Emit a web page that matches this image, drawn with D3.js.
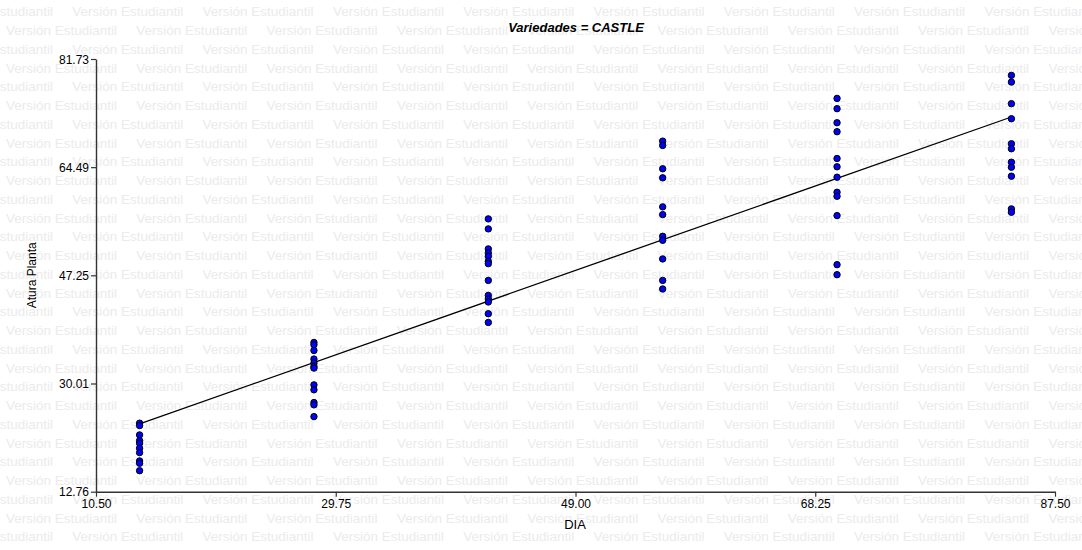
<!DOCTYPE html>
<html>
<head>
<meta charset="utf-8">
<script src="https://cdn.jsdelivr.net/npm/d3@7"></script>
<style>
  body { margin: 0; background: #fff; }
  text { font-family: "Liberation Sans", Arial, sans-serif; }
</style>
</head>
<body>
<div id="chart"></div>
<script>
// valores (Variedades = CASTLE)
const dias = [14, 28, 42, 56, 70, 84];
const alturaDia14 = [23.68, 23.30, 21.81, 20.90, 20.49, 19.69, 18.99, 17.66, 17.29, 16.11];
const alturaDia28 = [36.55, 36.18, 35.27, 33.90, 33.26, 32.72, 32.46, 29.79, 29.00, 26.97, 26.60, 24.73];
const alturaDia42 = [56.25, 54.65, 51.46, 50.82, 50.28, 49.48, 49.11, 46.44, 44.05, 43.48, 43.00, 41.13, 39.74];
const alturaDia56 = [68.64, 67.95, 64.23, 62.79, 58.16, 56.93, 53.47, 52.83, 49.86, 46.44, 45.07];
const alturaDia70 = [75.45, 73.81, 71.57, 70.14, 65.87, 64.55, 62.89, 60.49, 59.85, 56.77, 48.95, 47.35];
const alturaDia84 = [79.12, 78.05, 74.61, 72.21, 68.22, 67.42, 65.28, 64.48, 63.05, 57.84, 57.30];
const xTicks = [10.50, 29.75, 49.00, 68.25, 87.50];
const yTicks = [12.76, 30.01, 47.25, 64.49, 81.73];

const width = 1082, height = 550;

let data = [alturaDia14, alturaDia28, alturaDia42, alturaDia56, alturaDia70, alturaDia84]
    .flatMap((arr, i) => arr.map(v => ({dia: dias[i], altura: v})));

let svg = d3.select("#chart")
    .append("svg")
    .attr("width", width)
    .attr("height", height)
    .style("display", "block");

svg.append("rect").attr("width", width).attr("height", height).attr("fill", "#fff");

// marca de agua
let wm = svg.append("g").attr("fill", "#ebebeb").style("font-size", "13.5px");
for (let k = 0; k < 30; k++) {
    let yy = 16.3 + k * 18.75;
    for (let xx = (k % 2 == 0 ? -58 : 6); xx < width; xx += 130.3) {
        wm.append("text")
            .attr("x", xx)
            .attr("y", yy)
            .attr("textLength", 111)
            .attr("lengthAdjust", "spacingAndGlyphs")
            .text("Versión Estudiantil");
    }
}

let x = d3.scaleLinear().domain([10.5, 87.5]).range([96, 1055]);
let y = d3.scaleLinear().domain([12.76, 81.73]).range([491.7, 59]);

let xAxis = svg.append("g")
    .attr("transform", `translate(0, ${y(12.76)})`)
    .call(d3.axisBottom(x).tickValues(xTicks).tickFormat(d => d.toFixed(2)).tickSize(5).tickSizeOuter(0).tickPadding(3));

let yAxis = svg.append("g")
    .attr("transform", `translate(${x(10.5)}, 0)`)
    .call(d3.axisLeft(y).tickValues(yTicks).tickFormat(d => d.toFixed(2)).tickSize(5).tickSizeOuter(0).tickPadding(2));

[xAxis, yAxis].forEach(a => {
    a.select(".domain").attr("stroke", "#333").attr("stroke-width", 1.4);
    a.selectAll(".tick line").attr("stroke", "#333").attr("stroke-width", 1.2);
    a.selectAll(".tick text").attr("fill", "#000").style("font-size", "12px").style("font-family", "Liberation Sans, Arial, sans-serif");
});
yAxis.selectAll(".tick text").attr("dy", "0.35em");

// recta de regresion
let mx = d3.mean(data, d => d.dia), my = d3.mean(data, d => d.altura);
let b = d3.sum(data, d => (d.dia - mx) * (d.altura - my)) / d3.sum(data, d => (d.dia - mx) ** 2);
let a0 = my - b * mx;
let xr = d3.extent(dias);
svg.append("line")
    .attr("x1", x(xr[0])).attr("y1", y(a0 + b * xr[0]))
    .attr("x2", x(xr[1])).attr("y2", y(a0 + b * xr[1]))
    .attr("stroke", "#000")
    .attr("stroke-width", 1.3);

svg.append("g").selectAll("circle")
    .data(data)
    .enter()
    .append("circle")
    .attr("cx", d => x(d.dia))
    .attr("cy", d => y(d.altura))
    .attr("r", 3.2)
    .attr("fill", "#0000ff")
    .attr("stroke", "#000")
    .attr("stroke-width", 1);

svg.append("text")
    .attr("x", 576)
    .attr("y", 32)
    .attr("text-anchor", "middle")
    .style("font-size", "13px")
    .style("font-weight", "bold")
    .style("font-style", "italic")
    .text("Variedades = CASTLE");

svg.append("text")
    .attr("x", 575)
    .attr("y", 529)
    .attr("text-anchor", "middle")
    .style("font-size", "13px")
    .text("DIA");

svg.append("text")
    .attr("transform", `translate(36, ${y(47.25)}) rotate(-90)`)
    .attr("text-anchor", "middle")
    .style("font-size", "12px")
    .text("Atura Planta");
</script>
</body>
</html>
